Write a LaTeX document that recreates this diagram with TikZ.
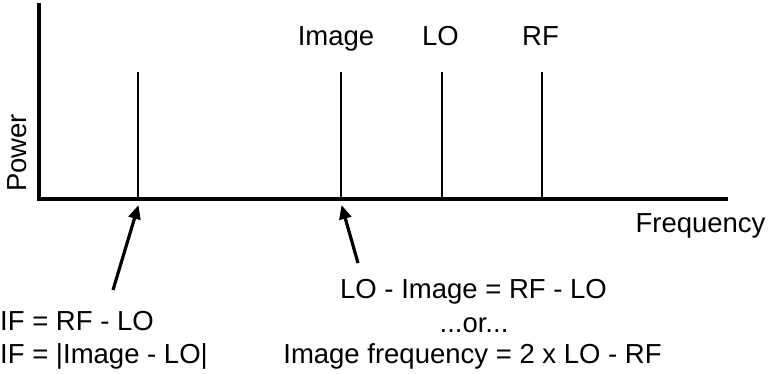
\documentclass[tikz,border=0pt]{standalone}
\usepackage{fontspec}
\setmainfont{Liberation Sans}
\usetikzlibrary{arrows.meta}
\tikzset{
  axis/.style={line width=4pt, line cap=rect},
  specline/.style={line width=2pt},
  pointer/.style={line width=3.2pt, -{Triangle[width=12pt,length=14pt]}},
  lbl/.style={inner sep=0pt, anchor=base, font=\fontsize{27.5}{32}\selectfont},
}
\begin{document}
\begin{tikzpicture}[x=1pt,y=-1pt]
\useasboundingbox (0,0) rectangle (769,373);
% axes
\coordinate (ytop) at (38.5,5);
\coordinate (origin) at (38.5,198.5);
\coordinate (xend) at (726,198.5);
\draw[axis] (ytop) -- (origin) -- (xend);
% spectral lines
\coordinate (ifTop) at (138,72);
\coordinate (ifBase) at (138,198.5);
\coordinate (imTop) at (341,72);
\coordinate (imBase) at (341,198.5);
\coordinate (loTop) at (441.5,72);
\coordinate (loBase) at (441.5,198.5);
\coordinate (rfTop) at (542,72);
\coordinate (rfBase) at (542,198.5);
\draw[specline] (ifTop) -- (ifBase);
\draw[specline] (imTop) -- (imBase);
\draw[specline] (loTop) -- (loBase);
\draw[specline] (rfTop) -- (rfBase);
% top labels
\node[lbl] (imLbl) at (336,45) {Image};
\node[lbl] (loLbl) at (440.5,45) {LO};
\node[lbl] (rfLbl) at (540.5,45) {RF};
% axis labels
\node[lbl, rotate=90] (power) at (26,153) {Power};
\node[lbl] (freq) at (700.5,232) {Frequency};
% bottom-left text
\node[lbl, anchor=base west] (if1) at (0,330) {IF = RF - LO};
\node[lbl, anchor=base west] (if2) at (0,363) {IF = |Image - LO|};
% bottom-right text
\node[lbl] (im1) at (473.5,298) {LO - Image = RF - LO};
\node[lbl] (im2) at (474,332) {...or...};
\node[lbl] (im3) at (472.5,363) {Image frequency = 2 x LO - RF};
% arrows
\coordinate (ifArrowStart) at (113,290);
\coordinate (ifArrowTip) at (138.5,205);
\coordinate (imArrowStart) at (358,263);
\coordinate (imArrowTip) at (341.5,205);
\draw[pointer] (ifArrowStart) -- (ifArrowTip);
\draw[pointer] (imArrowStart) -- (imArrowTip);
\end{tikzpicture}
\end{document}
